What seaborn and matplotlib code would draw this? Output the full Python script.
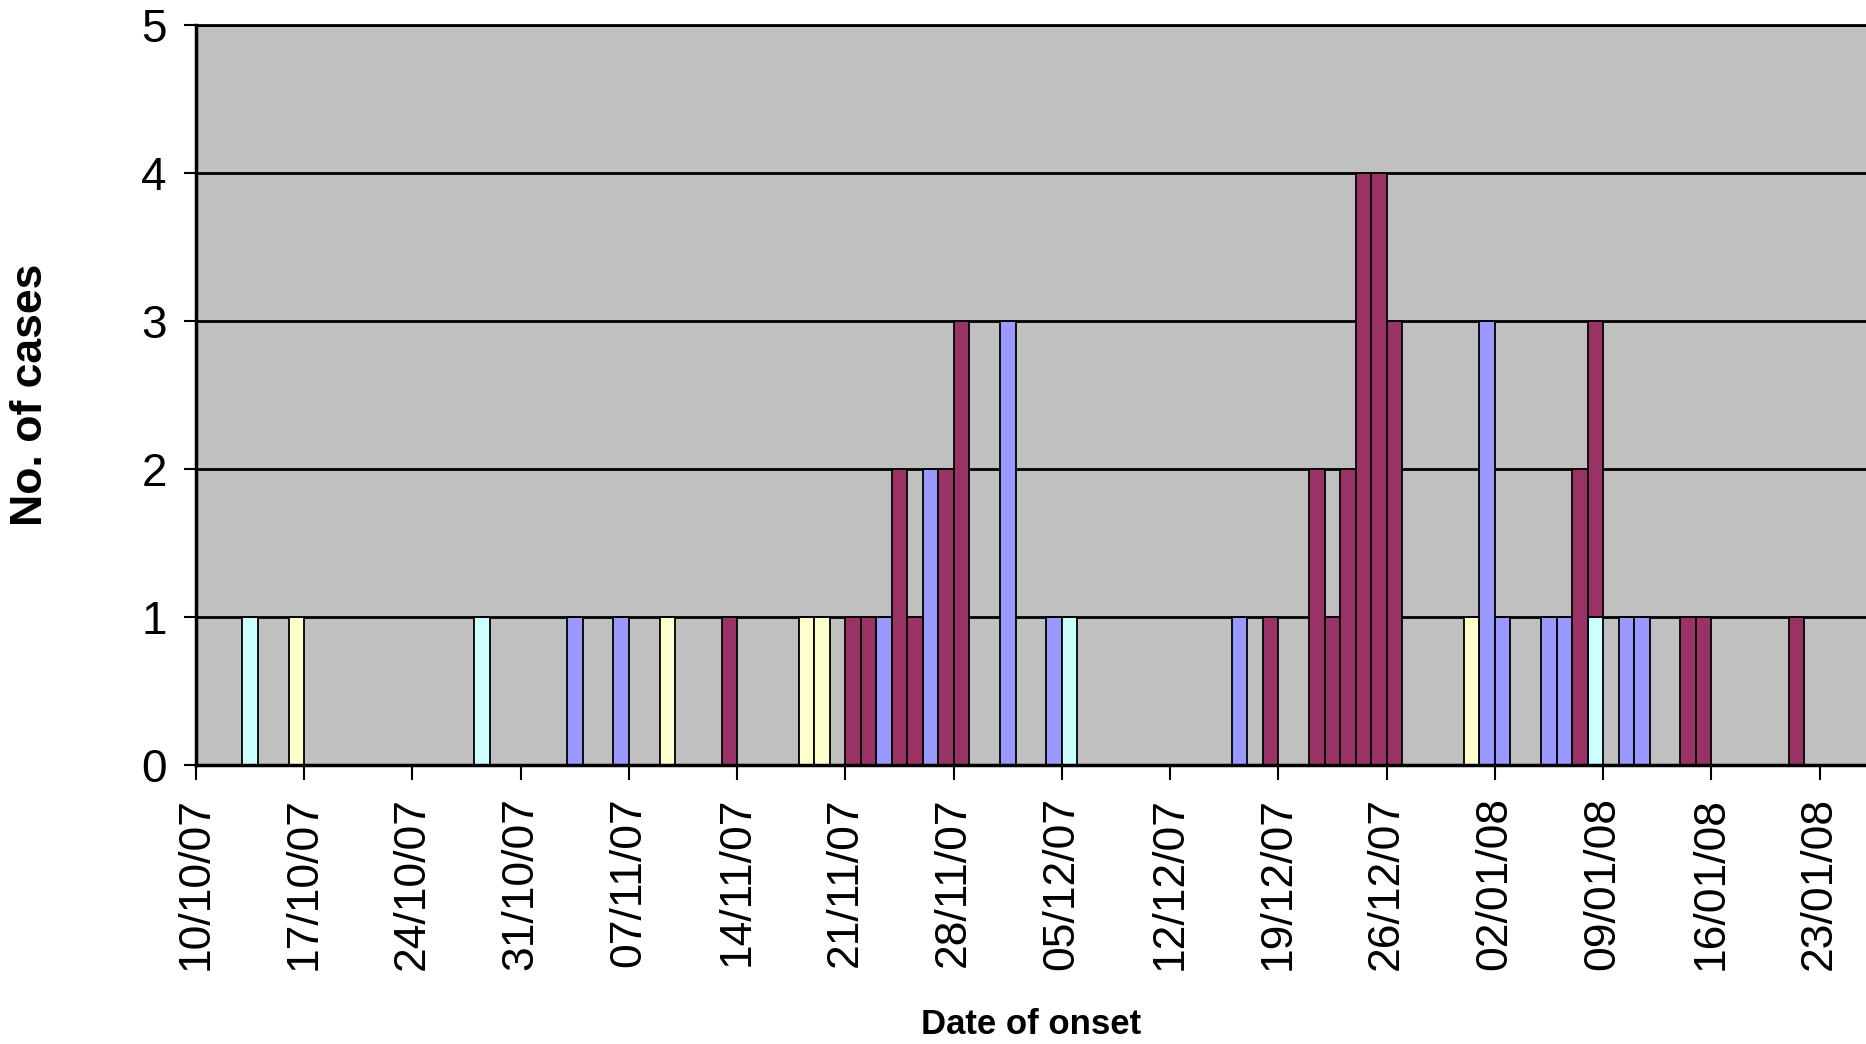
import numpy as np
import pandas as pd
import matplotlib
matplotlib.use("Agg")
import matplotlib.pyplot as plt
import seaborn as sns

# cases by date of onset, one list per group (colour in the original chart)
blue_dates = ["03/11/07", "06/11/07", "23/11/07", "26/11/07", "01/12/07", "04/12/07",
              "16/12/07", "01/01/08", "02/01/08", "05/01/08", "06/01/08", "10/01/08", "11/01/08"]
blue_counts = [1, 1, 1, 2, 3, 1, 1, 3, 1, 1, 1, 1, 1]

cyan_dates = ["13/10/07", "28/10/07", "05/12/07", "08/01/08"]
cyan_counts = [1, 1, 1, 1]

yellow_dates = ["16/10/07", "09/11/07", "18/11/07", "19/11/07", "31/12/07"]
yellow_counts = [1, 1, 1, 1, 1]

maroon_dates = ["13/11/07", "21/11/07", "22/11/07", "24/11/07", "25/11/07", "27/11/07",
                "28/11/07", "18/12/07", "21/12/07", "22/12/07", "23/12/07", "24/12/07",
                "25/12/07", "26/12/07", "07/01/08", "08/01/08", "14/01/08", "15/01/08",
                "21/01/08"]
maroon_counts = [1, 1, 1, 2, 1, 2, 3, 1, 2, 1, 2, 4, 4, 3, 2, 2, 1, 1, 1]

start = pd.Timestamp("2007-10-10")
n_days = 108

colours = {"maroon": "#993366", "cyan": "#CCFFFF", "yellow": "#FFFFCC", "blue": "#9999FF"}

rows = []
for name, ds, cs in [("blue", blue_dates, blue_counts), ("cyan", cyan_dates, cyan_counts),
                     ("yellow", yellow_dates, yellow_counts), ("maroon", maroon_dates, maroon_counts)]:
    for d, c in zip(ds, cs):
        rows.append({"group": name, "date": pd.to_datetime(d, format="%d/%m/%y"), "count": c})
df = pd.DataFrame(rows)
df["day"] = (df["date"] - start).dt.days

sns.set_style("white")
plt.rcParams["font.family"] = ["Liberation Sans", "DejaVu Sans"]
for k in ["text.color", "axes.labelcolor", "xtick.color", "ytick.color"]:
    plt.rcParams[k] = "black"

fig = plt.figure(figsize=(18.66, 10.44), dpi=100)
ax = fig.add_axes([0.105, 0.2672, 0.895, 0.7088])
ax.set_facecolor("#C0C0C0")

sns.histplot(data=df, x="day", weights="count", hue="group",
             hue_order=["maroon", "cyan", "yellow", "blue"], palette=colours,
             multiple="stack", binwidth=1, binrange=(0, n_days), alpha=1,
             edgecolor="black", linewidth=1.3, legend=False, ax=ax)

ax.set_xlim(0, n_days)
ax.set_ylim(0, 5)
ax.set_yticks(range(6))
ax.set_axisbelow(True)
ax.grid(axis="y", color="black", linewidth=2)
ax.grid(axis="x", visible=False)

xt = np.arange(0, 106, 7)
ax.set_xticks(xt)
ax.set_xticklabels([(start + pd.Timedelta(days=int(d))).strftime("%d/%m/%y") for d in xt],
                   rotation=90, fontsize=32)
ax.tick_params(axis="x", direction="out", length=11, width=1.5, pad=12, bottom=True)
ax.tick_params(axis="y", direction="out", length=9, width=1.5, pad=12, labelsize=33, left=True)

for s in ["left", "bottom"]:
    ax.spines[s].set_color("black")
    ax.spines[s].set_linewidth(2.5)
ax.spines["top"].set_color("black")
ax.spines["top"].set_linewidth(2)
ax.spines["right"].set_visible(False)

ax.set_xlabel("Date of onset", fontsize=25, fontweight="bold")
ax.set_ylabel("No. of cases", fontsize=32, fontweight="bold")
ax.xaxis.set_label_coords(0.5, -0.328)
ax.yaxis.set_label_coords(-0.087, 0.5)

fig.savefig("out.png", dpi=100)
